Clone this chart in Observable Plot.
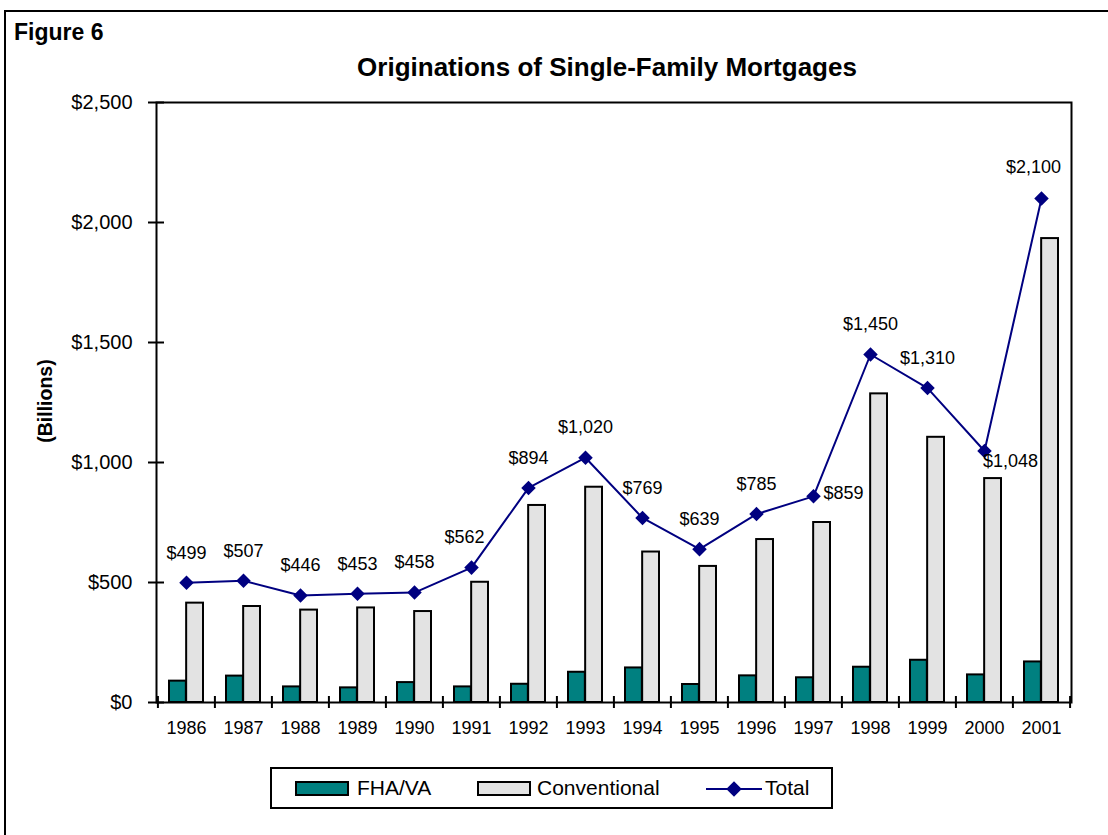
<!DOCTYPE html>
<html>
<head>
<meta charset="utf-8">
<script src="https://cdn.jsdelivr.net/npm/d3@7"></script>
<script src="https://cdn.jsdelivr.net/npm/@observablehq/plot@0.6"></script>
<style>
  html, body { margin: 0; padding: 0; background: #fff; }
  body { font-family: "Liberation Sans", Arial, sans-serif; }
  #page { position: relative; width: 1108px; height: 835px; overflow: hidden; }
  #outer { position: absolute; left: 4px; top: 10px; width: 1120px; height: 840px; border: 2px solid #000; box-sizing: border-box; }
  #fig { position: absolute; left: 14px; top: 21px; font-size: 23px; font-weight: bold; line-height: 23px; }
  #title { position: absolute; left: 0; width: 1214px; top: 54px; text-align: center; font-size: 26px; font-weight: bold; line-height: 26px; }
  #ylabel { position: absolute; left: -55px; top: 389px; width: 200px; text-align: center; font-size: 19.5px; font-weight: bold; line-height: 24px; transform: rotate(-90deg); }
  #chart { position: absolute; left: 0; top: 90px; }
  #legend { position: absolute; left: 270px; top: 767px; width: 563px; height: 42px; border: 2px solid #000; box-sizing: border-box; font-size: 21px; }
  .sw { position: absolute; top: 12px; width: 54px; height: 15px; border: 2px solid #000; box-sizing: border-box; }
  .lt { position: absolute; top: 8px; line-height: 22px; }
</style>
</head>
<body>
<div id="page">
  <div id="outer"></div>
  <div id="fig">Figure 6</div>
  <div id="title">Originations of Single-Family Mortgages</div>
  <div id="ylabel">(Billions)</div>
  <div id="chart"></div>
  <div id="legend">
    <div class="sw" style="left:23px;background:#008080"></div>
    <div class="lt" style="left:85px">FHA/VA</div>
    <div class="sw" style="left:205px;background:#e3e3e3"></div>
    <div class="lt" style="left:265px">Conventional</div>
    <svg style="position:absolute;left:434px;top:8px" width="60" height="24">
      <line x1="0" y1="12" x2="56" y2="12" stroke="#000080" stroke-width="2"/>
      <rect x="22.5" y="6.5" width="11" height="11" fill="#000080" transform="rotate(45 28 12)"/>
    </svg>
    <div class="lt" style="left:493px">Total</div>
  </div>
</div>
<script>
// ---- data ----
const years = [1986, 1987, 1988, 1989, 1990, 1991, 1992, 1993, 1994, 1995, 1996, 1997, 1998, 1999, 2000, 2001];
const fhaVa = [89, 110, 65, 61, 83, 65, 76, 126, 144, 75, 111, 103, 147, 176, 115, 169];
const conventional = [414, 400, 385, 394, 379, 501, 821, 897, 627, 567, 679, 750, 1286, 1105, 933, 1933];
const total = [499, 507, 446, 453, 458, 562, 894, 1020, 769, 639, 785, 859, 1450, 1310, 1048, 2100];
const yTicks = [0, 500, 1000, 1500, 2000, 2500];

// label placement tweaks (style only)
const labelStyle = {
  1991: {dx: -7, dy: -30, textAnchor: "middle"},
  1997: {dx: 10, dy: -3, textAnchor: "start"},
  2000: {dx: 26, dy: 10, textAnchor: "middle"},
  2001: {dx: -8, dy: -31, textAnchor: "middle"}
};

const rows = years.map((y, i) => ({year: y, fha: fhaVa[i], conv: conventional[i], total: total[i]}));
const money = d => "$" + d3.format(",")(d);

const W = 1108, H = 670, ML = 156, MR = 37, MT = 12, MB = 58;
const step = (W - ML - MR) / years.length;
const bw = step * 0.6;

const marks = [
  Plot.barY(rows, {x: "year", y: "fha", fill: "#008080", stroke: "#000", strokeWidth: 2, insetRight: bw / 2}),
  Plot.barY(rows, {x: "year", y: "conv", fill: "#e3e3e3", stroke: "#000", strokeWidth: 2, insetLeft: bw / 2}),
  Plot.lineY(rows, {x: "year", y: "total", stroke: "#000080", strokeWidth: 2}),
  Plot.dot(rows, {x: "year", y: "total", symbol: "square", r: 5.8, rotate: 45, fill: "#000080", stroke: "none"}),
  Plot.text(rows.filter(d => !labelStyle[d.year]), {x: "year", y: "total", text: d => money(d.total), dy: -30, fontSize: 18, fill: "#000"}),
  ...rows.filter(d => labelStyle[d.year]).map(d => Plot.text([d], {x: "year", y: "total", text: r => money(r.total), fontSize: 18, fill: "#000", ...labelStyle[d.year]})),
  // y axis labels and crossing ticks
  Plot.axisY(yTicks, {tickSize: 0, tickPadding: 24, tickFormat: money, fontSize: 20, label: null}),
  Plot.axisY(yTicks, {tickSize: 16, dx: 8, tickFormat: () => "", label: null, strokeWidth: 2}),
  // x axis labels and crossing ticks at band boundaries
  Plot.axisX(years, {tickSize: 0, tickPadding: 19, tickFormat: d => String(d), fontSize: 18, label: null}),
  Plot.axisX(years, {tickSize: 12, dy: -6, dx: -step / 2, tickFormat: () => "", label: null, strokeWidth: 2}),
  Plot.axisX([years[years.length - 1]], {tickSize: 12, dy: -6, dx: step / 2, tickFormat: () => "", label: null, strokeWidth: 2}),
  Plot.frame({stroke: "#000", strokeWidth: 2})
];

const chart = Plot.plot({
  width: W, height: H,
  marginLeft: ML, marginRight: MR, marginTop: MT, marginBottom: MB,
  style: {fontFamily: '"Liberation Sans", Arial, sans-serif', background: "transparent", color: "#000", overflow: "visible"},
  x: {type: "band", domain: years, paddingInner: 0.4, paddingOuter: 0.2, axis: null},
  y: {domain: [0, 2500], axis: null},
  marks
});
document.getElementById("chart").appendChild(chart);
</script>
</body>
</html>
